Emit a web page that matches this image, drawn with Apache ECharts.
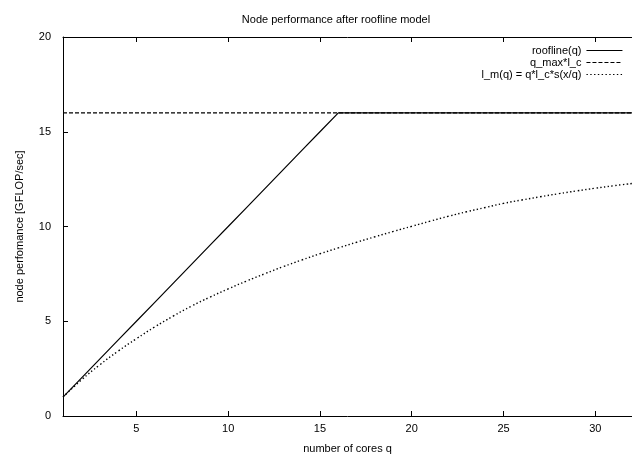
<!DOCTYPE html>
<html>
<head>
<meta charset="utf-8">
<script src="https://cdn.jsdelivr.net/npm/echarts@6/dist/echarts.min.js"></script>
<style>
  html, body { margin: 0; padding: 0; background: #fff; }
  #chart { width: 632px; height: 459px; }
</style>
</head>
<body>
<div id="chart"></div>
<script>
// number of cores q
const cores = [1, 2, 3, 4, 5, 6, 7, 8, 9, 10, 11, 12, 13, 14, 15, 16,
  17, 18, 19, 20, 21, 22, 23, 24, 25, 26, 27, 28, 29, 30, 31, 32];
// roofline(q)
const roofline = [1, 2, 3, 4, 5, 6, 7, 8, 9, 10, 11, 12, 13, 14, 15, 16,
  16, 16, 16, 16, 16, 16, 16, 16, 16, 16, 16, 16, 16, 16, 16, 16];
// q_max*l_c
const qmaxLc = [16, 16, 16, 16, 16, 16, 16, 16, 16, 16, 16, 16, 16, 16, 16, 16,
  16, 16, 16, 16, 16, 16, 16, 16, 16, 16, 16, 16, 16, 16, 16, 16];
// l_m(q) = q*l_c*s(x/q)
const lm = [1.0, 1.9, 2.7, 3.42, 4.08, 4.7, 5.27, 5.8, 6.27, 6.71, 7.12, 7.51, 7.88, 8.23, 8.56, 8.87,
  9.17, 9.46, 9.74, 10.01, 10.28, 10.54, 10.78, 11.0, 11.22, 11.4, 11.57, 11.73, 11.88, 12.02, 12.15, 12.27];

const xTicks = [5, 10, 15, 20, 25, 30];
const yTicks = [0, 5, 10, 15, 20];

const FONT = 'Liberation Sans';

function pairs(vals) {
  return cores.map((q, i) => [q, vals[i]]);
}

const chart = echarts.init(document.getElementById('chart'));

// gnuplot style ticks, pointing into the plot
const tickStyle = { show: true, inside: true, length: 5, lineStyle: { color: '#000', width: 1 } };

chart.setOption({
  animation: false,
  backgroundColor: '#fff',
  textStyle: { fontFamily: FONT, color: '#000' },
  title: {
    text: 'Node performance after roofline model',
    left: 331,
    textAlign: 'center',
    top: 9,
    textStyle: { fontFamily: FONT, fontSize: 11, fontWeight: 'normal', color: '#000' }
  },
  legend: {
    orient: 'vertical',
    right: 9,
    top: 45,
    align: 'right',
    padding: 0,
    itemWidth: 36,
    itemHeight: 11,
    itemGap: 1,
    itemStyle: { opacity: 0 },
    lineStyle: { width: 1.1 },
    textStyle: { fontFamily: FONT, fontSize: 11, color: '#000' },
    data: ['roofline(q)', 'q_max*l_c', 'l_m(q) = q*l_c*s(x/q)']
  },
  grid: { left: 63, right: -7, top: 37, bottom: 43 },
  xAxis: [{
    type: 'value',
    min: 1,
    max: 32,
    name: 'number of cores q',
    nameLocation: 'middle',
    nameGap: 27,
    nameTextStyle: { fontFamily: FONT, fontSize: 11, color: '#000' },
    splitLine: { show: false },
    axisLine: { show: true, lineStyle: { color: '#000', width: 1 } },
    axisTick: Object.assign({ customValues: xTicks }, tickStyle),
    axisLabel: { customValues: xTicks, margin: 7, fontFamily: FONT, fontSize: 11, color: '#000' }
  }, {
    type: 'value',
    position: 'top',
    min: 1,
    max: 32,
    splitLine: { show: false },
    axisLine: { show: true, lineStyle: { color: '#000', width: 1 } },
    axisTick: Object.assign({ customValues: xTicks }, tickStyle),
    axisLabel: { show: false }
  }],
  yAxis: {
    type: 'value',
    min: 0,
    max: 20,
    interval: 5,
    name: 'node perfomance [GFLOP/sec]',
    nameLocation: 'middle',
    nameGap: 38,
    nameTextStyle: { fontFamily: FONT, fontSize: 11, color: '#000' },
    splitLine: { show: false },
    axisLine: { show: true, lineStyle: { color: '#000', width: 1 } },
    axisTick: Object.assign({ customValues: yTicks }, tickStyle),
    axisLabel: { customValues: yTicks, margin: 12, fontFamily: FONT, fontSize: 11, color: '#000' }
  },
  series: [{
    name: 'roofline(q)',
    type: 'line',
    data: pairs(roofline),
    showSymbol: false,
    symbol: 'none',
    lineStyle: { color: '#000', width: 1.2, type: 'solid' },
    itemStyle: { color: '#000' }
  }, {
    name: 'q_max*l_c',
    type: 'line',
    data: pairs(qmaxLc),
    showSymbol: false,
    symbol: 'none',
    lineStyle: { color: '#000', width: 1.2, type: [4, 2] },
    itemStyle: { color: '#000' }
  }, {
    name: 'l_m(q) = q*l_c*s(x/q)',
    type: 'line',
    data: pairs(lm),
    smooth: true,
    showSymbol: false,
    symbol: 'none',
    lineStyle: { color: '#000', width: 1.4, type: [1.4, 2.4] },
    itemStyle: { color: '#000' }
  }]
});
</script>
</body>
</html>
